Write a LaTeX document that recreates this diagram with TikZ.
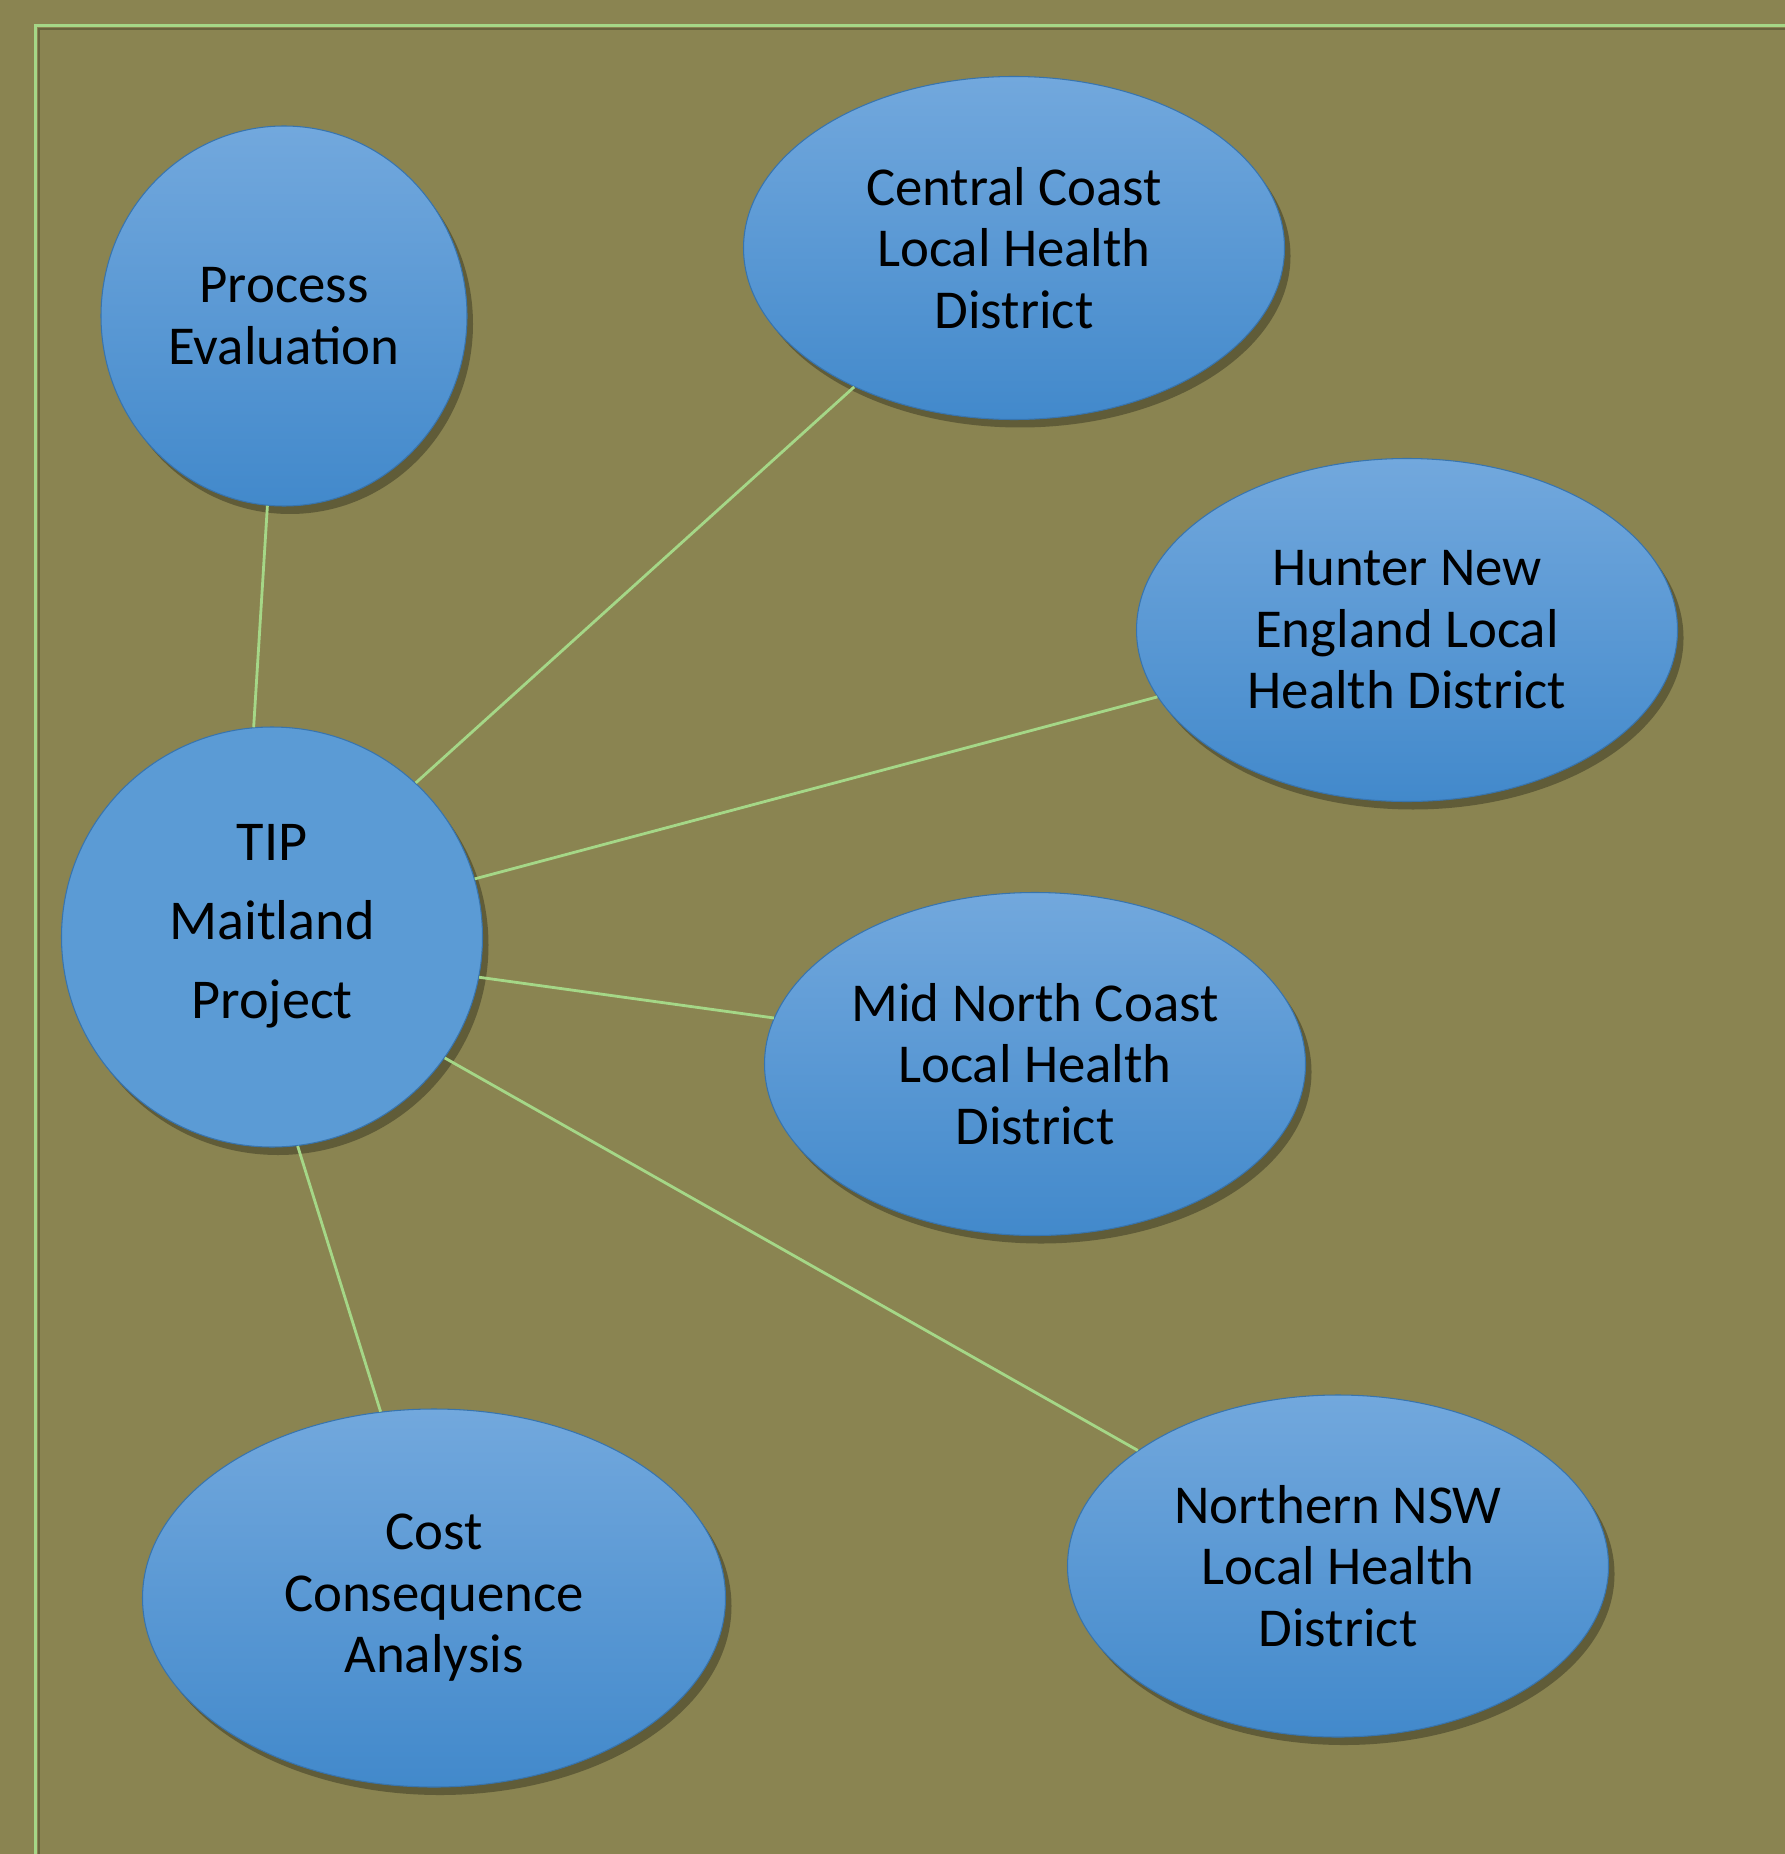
\documentclass[tikz,border=0pt]{standalone}
\usepackage{fontspec}
\setmainfont{Carlito}
\usetikzlibrary{shapes.geometric, shadows}
\definecolor{olivebg}{RGB}{138, 132, 81}
\definecolor{framegreen}{RGB}{165, 215, 135}
\definecolor{bubbletop}{RGB}{114, 168, 221}
\definecolor{bubblebot}{RGB}{66, 137, 203}
\definecolor{hubblue}{RGB}{91, 155, 213}

\begin{document}
\begin{tikzpicture}[
  bubble/.style={ellipse, inner sep=0pt, align=center, top color=bubbletop, bottom color=bubblebot,
    draw=bubblebot!85!black, line width=0.3pt, font=\fontsize{15.6}{17.5}\selectfont,
    drop shadow={shadow xshift=0.06cm, shadow yshift=-0.08cm, opacity=0.3, fill=black}},
  hub/.style={bubble, top color=hubblue, bottom color=hubblue, font=\fontsize{16}{22.5}\selectfont},
  link/.style={draw=framegreen, line width=0.8pt}
]
  \fill[olivebg] (0,0) rectangle (17.85,-18.54);
  \useasboundingbox (0,0) rectangle (17.85,-18.54);
  % frame
  \draw[framegreen, line width=1pt] (0.355,-18.54) -- (0.355,-0.255) -- (17.85,-0.255);
  \draw[olivebg!75!black, line width=0.3pt] (0.39,-18.54) -- (0.39,-0.29) -- (17.85,-0.29);

  \node[bubble, minimum width=3.66cm, minimum height=3.80cm] (proc) at (2.84,-3.16) {Process\\Evaluation};
  \node[bubble, minimum width=5.41cm, minimum height=3.43cm] (cc) at (10.14,-2.48) {Central Coast\\Local Health\\District};
  \node[bubble, minimum width=5.41cm, minimum height=3.43cm] (hne) at (14.07,-6.30) {Hunter New\\England Local\\Health District};
  \node[hub, minimum width=4.21cm, minimum height=4.20cm] (tip) at (2.72,-9.37)
    {\parbox[c][2.26cm][t]{2.6cm}{\centering TIP\\Maitland\\Project}};
  \node[bubble, minimum width=5.41cm, minimum height=3.43cm] (mnc) at (10.35,-10.64) {Mid North Coast\\Local Health\\District};
  \node[bubble, minimum width=5.83cm, minimum height=3.78cm] (cost) at (4.34,-15.98) {Cost\\Consequence\\Analysis};
  \node[bubble, minimum width=5.41cm, minimum height=3.42cm] (nnsw) at (13.38,-15.66) {Northern NSW\\Local Health\\District};

  % links from the hub
  \draw[link] (tip.95.7) -- (proc.265);
  \draw[link] (tip.47.9) -- (cc.221.4);
  \draw[link] (tip.16.7) -- (hne.195.3);
  \draw[link] (tip.-11.1) -- (mnc.170.7);
  \draw[link] (tip.-35.7) -- (nnsw.150.7);
  \draw[link] (tip.-83) -- (cost.106.7);
\end{tikzpicture}
\end{document}
